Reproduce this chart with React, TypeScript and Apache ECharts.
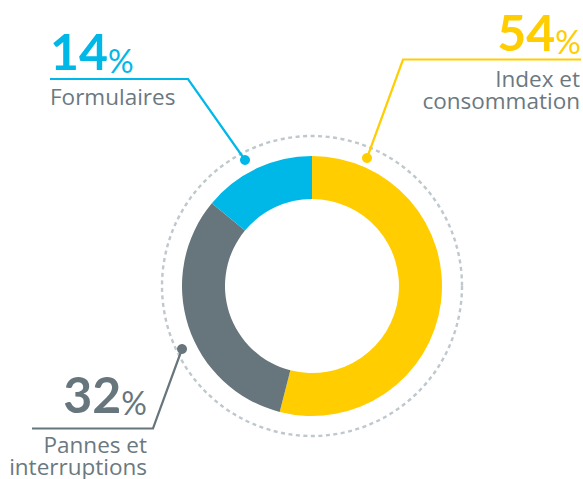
import React, { useEffect, useRef } from "react";
import * as echarts from "echarts";

const categories = ["Index et\nconsommation", "Pannes et\ninterruptions", "Formulaires"];
const values = [54, 32, 14];
const colors = ["#FFCD00", "#67767C", "#00B8E8"];
const labelColor = "#6B797F";

export default function App() {
  const ref = useRef<HTMLDivElement>(null);
  useEffect(() => {
    const chart = echarts.init(ref.current!, null, { renderer: "svg" });
    const font = "Lato, 'Noto Sans', sans-serif";
    const nameFont = "'Open Sans', Lato, sans-serif";
    const cx = 312;
    const cy = 286;

    const pct = (i: number, x: number, baseline: number, align: string) => ({
      type: "text",
      x,
      y: baseline + 5.6,
      silent: true,
      style: {
        text: `{n|${values[i]}}{p|%}`,
        align,
        verticalAlign: "bottom",
        rich: {
          n: { fontSize: 50, fontWeight: "bold", fontFamily: font, fill: colors[i], lineHeight: 60, verticalAlign: "bottom" },
          p: { fontSize: 32, fontWeight: "normal", fontFamily: font, fill: colors[i], lineHeight: 46, verticalAlign: "bottom" },
        },
      },
    });
    const name = (i: number, x: number, baseline: number, align: string) => ({
      type: "text",
      x,
      y: baseline - 20.5,
      silent: true,
      style: {
        text: categories[i],
        align,
        verticalAlign: "top",
        fontSize: 22.5,
        lineHeight: 22.5,
        fontFamily: nameFont,
        fill: labelColor,
      },
    });
    const leader = (i: number, pts: number[][]) => ({
      type: "polyline",
      silent: true,
      shape: { points: pts },
      style: { stroke: colors[i], lineWidth: 2.2, fill: "none" },
    });
    const dot = (i: number, x: number, y: number) => ({
      type: "circle",
      silent: true,
      shape: { cx: x, cy: y, r: 5 },
      style: { fill: colors[i] },
    });

    chart.setOption({
      animation: false,
      backgroundColor: "#ffffff",
      series: [
        {
          type: "pie",
          center: [cx, cy],
          radius: [87, 130],
          startAngle: 90,
          clockwise: true,
          silent: true,
          label: { show: false },
          labelLine: { show: false },
          emphasis: { disabled: true },
          itemStyle: { borderWidth: 0 },
          data: categories.map((c, i) => ({ name: c, value: values[i], itemStyle: { color: colors[i] } })),
        },
      ],
      graphic: [
        {
          type: "circle",
          silent: true,
          shape: { cx, cy, r: 150 },
          style: { fill: "none", stroke: "#BFC8CC", lineWidth: 2.4, lineDash: [4, 3.5] },
        },
        leader(2, [[50, 79], [188, 79], [245, 160]]),
        dot(2, 245, 160),
        leader(0, [[581, 59.5], [403, 59.5], [367, 158]]),
        dot(0, 367, 158),
        leader(1, [[32, 428.5], [153, 428.5], [182, 349]]),
        dot(1, 182, 349),
        pct(2, 50, 70.7, "left"),
        name(2, 50, 106, "left"),
        pct(0, 581, 51.7, "right"),
        name(0, 580, 87.3, "right"),
        pct(1, 147, 413.3, "right"),
        name(1, 147, 453.3, "right"),
      ],
    });
    return () => chart.dispose();
  }, []);
  return (
    <div
      ref={ref}
      style={{ position: "absolute", left: 0, top: 0, width: 583, height: 479 }}
    />
  );
}
